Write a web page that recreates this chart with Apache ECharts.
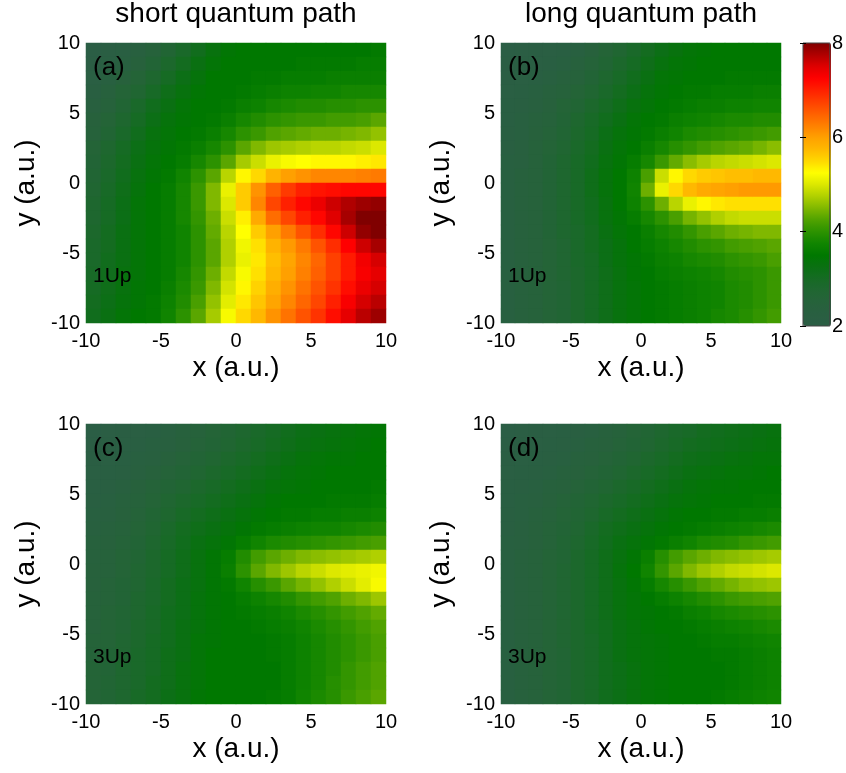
<!DOCTYPE html>
<html lang="en">
  <head>
    <meta charset="utf-8">
    <title>short / long quantum path</title>
    <script src="https://cdn.jsdelivr.net/npm/echarts@6/dist/echarts.min.js"></script>
  </head>
  <body style="margin:0;background:#fff">
    <div id="main" style="width:846px;height:773px;"></div>
    <script type="text/javascript">
    // cell centres (a.u.), one cell per 1 a.u.
    var xs = ['-9.5','-8.5','-7.5','-6.5','-5.5','-4.5','-3.5','-2.5','-1.5','-0.5',
              '0.5','1.5','2.5','3.5','4.5','5.5','6.5','7.5','8.5','9.5'];
    var ys = xs.slice(); // bottom to top
    var axisTicks = [-10, -5, 0, 5, 10];
    var barTicks = [2, 4, 6, 8];

    // each inner array is one x column, values from y=+9.5 (top) down to y=-9.5
    var shortUp1 = [
      [2.0,2.05,2.15,2.25,2.35,2.45,2.5,2.6,2.65,2.7,2.75,2.8,2.8,2.85,2.9,2.9,2.95,3.0,3.05,3.1],
      [2.1,2.2,2.3,2.4,2.5,2.6,2.7,2.8,2.85,2.9,2.95,3.0,3.0,3.05,3.05,3.1,3.1,3.15,3.2,3.25],
      [2.2,2.3,2.45,2.6,2.7,2.8,2.9,3.0,3.05,3.1,3.15,3.2,3.2,3.25,3.25,3.25,3.3,3.3,3.35,3.4],
      [2.35,2.45,2.6,2.75,2.9,3.0,3.1,3.2,3.25,3.3,3.35,3.4,3.4,3.4,3.4,3.4,3.4,3.45,3.45,3.5],
      [2.5,2.65,2.8,2.95,3.1,3.2,3.3,3.35,3.4,3.45,3.5,3.5,3.5,3.5,3.5,3.5,3.5,3.5,3.55,3.55],
      [2.7,2.85,3.0,3.15,3.25,3.35,3.4,3.45,3.5,3.55,3.6,3.6,3.6,3.6,3.6,3.6,3.6,3.65,3.7,3.75],
      [2.9,3.05,3.2,3.3,3.4,3.45,3.5,3.55,3.6,3.75,3.8,3.8,3.8,3.75,3.75,3.75,3.8,3.85,3.9,4.0],
      [3.1,3.25,3.35,3.45,3.5,3.5,3.55,3.65,3.8,4.0,4.1,4.1,4.05,4.0,4.0,4.0,4.05,4.1,4.2,4.3],
      [3.3,3.4,3.5,3.5,3.5,3.55,3.65,3.8,4.0,4.3,4.5,4.5,4.4,4.35,4.3,4.3,4.4,4.5,4.6,4.7],
      [3.45,3.5,3.5,3.5,3.55,3.65,3.8,4.0,4.3,4.8,5.1,5.0,4.9,4.8,4.75,4.75,4.85,4.95,5.05,5.2],
      [3.5,3.5,3.5,3.55,3.65,3.8,4.0,4.3,4.7,5.3,5.6,5.6,5.35,5.25,5.15,5.1,5.2,5.3,5.4,5.5],
      [3.5,3.5,3.55,3.6,3.7,3.9,4.1,4.5,4.9,5.5,6.1,6.2,5.9,5.6,5.45,5.4,5.45,5.55,5.65,5.75],
      [3.5,3.5,3.55,3.65,3.8,4.0,4.25,4.65,5.1,5.8,6.5,6.7,6.4,6.0,5.8,5.7,5.75,5.85,5.95,6.1],
      [3.5,3.5,3.6,3.7,3.85,4.05,4.3,4.7,5.2,6.0,6.8,7.0,6.7,6.3,6.05,5.95,6.0,6.1,6.2,6.35],
      [3.5,3.55,3.6,3.7,3.9,4.1,4.35,4.75,5.25,6.1,7.0,7.2,7.0,6.6,6.3,6.2,6.25,6.35,6.45,6.6],
      [3.5,3.55,3.6,3.75,3.9,4.1,4.4,4.8,5.3,6.2,7.1,7.4,7.2,6.9,6.6,6.45,6.5,6.6,6.7,6.85],
      [3.5,3.55,3.65,3.75,3.95,4.15,4.4,4.8,5.3,6.2,7.15,7.6,7.5,7.2,6.9,6.75,6.75,6.85,7.0,7.15],
      [3.5,3.55,3.65,3.8,3.95,4.15,4.45,4.85,5.3,6.2,7.2,7.75,7.8,7.6,7.25,7.05,7.05,7.15,7.3,7.45],
      [3.5,3.6,3.65,3.8,4.0,4.2,4.5,4.9,5.35,6.25,7.2,7.85,8.0,7.9,7.6,7.35,7.3,7.4,7.55,7.7],
      [3.55,3.6,3.65,3.8,4.0,4.3,4.6,5.0,5.4,6.3,7.2,7.9,8.0,8.0,7.8,7.55,7.45,7.55,7.7,7.85]
    ];
    var longUp1 = [
      [2.0,2.05,2.1,2.15,2.2,2.2,2.25,2.25,2.3,2.3,2.3,2.3,2.3,2.3,2.3,2.3,2.3,2.3,2.3,2.3],
      [2.05,2.1,2.15,2.2,2.25,2.3,2.3,2.35,2.35,2.4,2.4,2.4,2.4,2.4,2.4,2.4,2.4,2.4,2.4,2.4],
      [2.1,2.15,2.2,2.3,2.35,2.4,2.45,2.5,2.5,2.5,2.5,2.5,2.5,2.5,2.5,2.5,2.5,2.5,2.5,2.5],
      [2.15,2.2,2.3,2.4,2.45,2.5,2.55,2.6,2.65,2.65,2.65,2.65,2.65,2.65,2.6,2.6,2.6,2.6,2.6,2.6],
      [2.2,2.3,2.4,2.5,2.6,2.65,2.7,2.75,2.8,2.8,2.8,2.8,2.8,2.8,2.75,2.75,2.75,2.7,2.7,2.7],
      [2.3,2.4,2.5,2.6,2.7,2.8,2.85,2.9,2.95,2.95,2.95,2.95,2.95,2.9,2.9,2.9,2.85,2.85,2.85,2.85],
      [2.45,2.55,2.65,2.75,2.85,2.95,3.0,3.05,3.1,3.15,3.15,3.1,3.1,3.05,3.05,3.0,3.0,3.0,3.0,3.0],
      [2.6,2.7,2.8,2.9,3.0,3.1,3.2,3.25,3.3,3.35,3.35,3.3,3.3,3.25,3.2,3.2,3.15,3.15,3.15,3.15],
      [2.75,2.85,2.95,3.05,3.15,3.25,3.35,3.4,3.45,3.5,3.5,3.5,3.45,3.4,3.35,3.35,3.3,3.3,3.3,3.3],
      [2.9,3.0,3.1,3.2,3.3,3.4,3.45,3.5,3.6,3.7,3.75,3.7,3.6,3.5,3.5,3.45,3.45,3.4,3.4,3.4],
      [3.05,3.15,3.25,3.35,3.4,3.5,3.55,3.65,3.8,4.2,4.4,4.0,3.8,3.65,3.6,3.55,3.5,3.5,3.5,3.5],
      [3.2,3.3,3.4,3.45,3.5,3.55,3.65,3.8,4.1,4.9,5.1,4.4,4.0,3.8,3.7,3.65,3.6,3.55,3.55,3.55],
      [3.3,3.4,3.45,3.5,3.55,3.65,3.75,3.95,4.35,5.3,5.5,4.8,4.2,3.9,3.8,3.7,3.65,3.6,3.6,3.6],
      [3.4,3.45,3.5,3.55,3.6,3.7,3.85,4.05,4.55,5.5,5.75,5.1,4.45,4.05,3.9,3.8,3.7,3.65,3.65,3.65],
      [3.45,3.5,3.5,3.55,3.65,3.75,3.9,4.15,4.7,5.6,5.9,5.3,4.6,4.2,4.0,3.85,3.75,3.7,3.7,3.7],
      [3.5,3.5,3.5,3.6,3.65,3.8,3.95,4.25,4.8,5.65,5.95,5.4,4.75,4.3,4.05,3.9,3.8,3.75,3.75,3.8],
      [3.5,3.5,3.55,3.6,3.7,3.85,4.0,4.3,4.85,5.7,6.0,5.45,4.85,4.4,4.15,4.0,3.9,3.85,3.85,3.85],
      [3.5,3.5,3.55,3.6,3.7,3.85,4.05,4.35,4.9,5.7,6.05,5.45,4.9,4.45,4.2,4.05,3.95,3.9,3.9,3.95],
      [3.5,3.5,3.55,3.65,3.75,3.9,4.1,4.45,4.95,5.75,6.05,5.45,4.9,4.5,4.25,4.1,4.0,4.0,4.0,4.05],
      [3.5,3.5,3.55,3.65,3.75,3.9,4.15,4.55,5.0,5.75,6.05,5.45,4.9,4.5,4.3,4.2,4.1,4.1,4.1,4.15]
    ];
    var shortUp3 = [
      [2.0,2.05,2.1,2.15,2.2,2.25,2.3,2.35,2.4,2.4,2.45,2.45,2.5,2.5,2.5,2.55,2.55,2.6,2.6,2.6],
      [2.05,2.1,2.15,2.2,2.25,2.3,2.35,2.4,2.45,2.5,2.5,2.55,2.55,2.6,2.6,2.6,2.65,2.65,2.7,2.7],
      [2.1,2.15,2.2,2.25,2.35,2.4,2.45,2.5,2.55,2.6,2.6,2.65,2.65,2.7,2.7,2.75,2.75,2.8,2.8,2.8],
      [2.15,2.2,2.3,2.35,2.45,2.5,2.55,2.6,2.65,2.7,2.75,2.75,2.8,2.8,2.85,2.85,2.9,2.9,2.9,2.95],
      [2.2,2.3,2.35,2.45,2.55,2.6,2.7,2.75,2.8,2.85,2.85,2.9,2.9,2.95,2.95,3.0,3.0,3.0,3.05,3.05],
      [2.3,2.35,2.45,2.55,2.65,2.75,2.8,2.9,2.95,3.0,3.0,3.05,3.05,3.1,3.1,3.1,3.15,3.15,3.15,3.2],
      [2.4,2.45,2.55,2.65,2.75,2.85,2.95,3.05,3.1,3.15,3.15,3.2,3.2,3.2,3.25,3.25,3.25,3.3,3.3,3.3],
      [2.5,2.55,2.65,2.75,2.85,2.95,3.05,3.15,3.25,3.3,3.3,3.3,3.35,3.35,3.35,3.4,3.4,3.4,3.4,3.45],
      [2.6,2.65,2.75,2.85,2.95,3.05,3.15,3.25,3.35,3.45,3.45,3.45,3.45,3.45,3.45,3.45,3.5,3.5,3.5,3.5],
      [2.7,2.75,2.85,2.95,3.05,3.15,3.25,3.35,3.45,3.6,3.65,3.55,3.5,3.5,3.5,3.5,3.5,3.5,3.5,3.5],
      [2.8,2.85,2.95,3.05,3.15,3.25,3.35,3.45,3.6,3.9,4.0,3.75,3.6,3.55,3.5,3.5,3.5,3.5,3.5,3.5],
      [2.9,2.95,3.05,3.15,3.25,3.35,3.45,3.55,3.75,4.15,4.3,3.95,3.7,3.6,3.55,3.5,3.5,3.5,3.5,3.5],
      [3.0,3.05,3.15,3.25,3.35,3.45,3.5,3.6,3.85,4.3,4.5,4.1,3.8,3.65,3.6,3.55,3.55,3.5,3.5,3.55],
      [3.1,3.15,3.25,3.35,3.4,3.5,3.55,3.65,3.9,4.4,4.65,4.3,3.9,3.75,3.65,3.6,3.6,3.6,3.6,3.6],
      [3.2,3.25,3.35,3.4,3.45,3.5,3.55,3.7,3.95,4.5,4.8,4.45,4.05,3.85,3.75,3.7,3.7,3.7,3.7,3.75],
      [3.25,3.3,3.4,3.45,3.5,3.5,3.6,3.75,4.0,4.55,4.9,4.6,4.15,3.95,3.85,3.8,3.8,3.8,3.8,3.85],
      [3.3,3.35,3.45,3.5,3.5,3.55,3.6,3.75,4.05,4.6,5.0,4.75,4.25,4.05,3.95,3.9,3.9,3.9,3.95,3.95],
      [3.35,3.4,3.45,3.5,3.5,3.55,3.65,3.8,4.1,4.65,5.05,4.9,4.4,4.15,4.05,4.0,4.0,4.05,4.05,4.1],
      [3.4,3.45,3.5,3.5,3.5,3.55,3.65,3.85,4.15,4.7,5.1,5.05,4.5,4.25,4.15,4.1,4.1,4.15,4.15,4.2],
      [3.45,3.5,3.5,3.5,3.55,3.6,3.7,3.9,4.2,4.75,5.15,5.2,4.65,4.35,4.25,4.2,4.2,4.25,4.25,4.3]
    ];
    var longUp3 = [
      [2.0,2.05,2.1,2.15,2.2,2.2,2.25,2.25,2.3,2.3,2.3,2.3,2.3,2.3,2.3,2.3,2.3,2.3,2.3,2.3],
      [2.05,2.1,2.15,2.2,2.25,2.3,2.3,2.35,2.35,2.4,2.4,2.4,2.4,2.4,2.4,2.4,2.4,2.4,2.4,2.4],
      [2.1,2.15,2.2,2.25,2.3,2.35,2.4,2.45,2.45,2.5,2.5,2.5,2.5,2.5,2.5,2.5,2.5,2.5,2.5,2.5],
      [2.15,2.2,2.25,2.3,2.4,2.45,2.5,2.55,2.55,2.6,2.6,2.6,2.6,2.6,2.6,2.6,2.6,2.6,2.6,2.6],
      [2.2,2.25,2.3,2.4,2.45,2.55,2.6,2.65,2.7,2.7,2.75,2.75,2.75,2.75,2.75,2.75,2.7,2.7,2.7,2.7],
      [2.25,2.3,2.4,2.45,2.55,2.65,2.7,2.75,2.8,2.85,2.85,2.85,2.85,2.85,2.85,2.85,2.85,2.85,2.85,2.85],
      [2.3,2.4,2.45,2.55,2.65,2.75,2.8,2.9,2.95,3.0,3.0,3.0,3.0,3.0,3.0,2.95,2.95,2.95,2.95,2.95],
      [2.4,2.45,2.55,2.65,2.75,2.85,2.95,3.05,3.1,3.15,3.15,3.15,3.15,3.15,3.1,3.1,3.1,3.1,3.1,3.1],
      [2.5,2.55,2.65,2.75,2.85,2.95,3.05,3.15,3.25,3.3,3.35,3.3,3.3,3.3,3.25,3.25,3.25,3.2,3.2,3.2],
      [2.6,2.65,2.75,2.85,2.95,3.05,3.15,3.25,3.35,3.45,3.5,3.45,3.4,3.4,3.35,3.35,3.35,3.3,3.3,3.3],
      [2.7,2.75,2.85,2.95,3.05,3.15,3.25,3.35,3.45,3.65,3.75,3.6,3.5,3.45,3.45,3.4,3.4,3.4,3.4,3.4],
      [2.8,2.85,2.95,3.05,3.15,3.25,3.35,3.45,3.55,3.95,4.05,3.8,3.6,3.5,3.5,3.45,3.45,3.45,3.45,3.45],
      [2.9,2.95,3.05,3.15,3.25,3.35,3.45,3.5,3.65,4.15,4.3,3.95,3.7,3.55,3.5,3.5,3.5,3.5,3.5,3.5],
      [2.95,3.05,3.15,3.25,3.35,3.4,3.5,3.55,3.75,4.3,4.5,4.1,3.8,3.65,3.55,3.5,3.5,3.5,3.5,3.5],
      [3.05,3.1,3.2,3.3,3.4,3.45,3.5,3.6,3.85,4.4,4.65,4.25,3.9,3.7,3.6,3.55,3.5,3.5,3.5,3.5],
      [3.1,3.15,3.25,3.35,3.45,3.5,3.55,3.65,3.9,4.5,4.75,4.35,4.0,3.8,3.65,3.6,3.55,3.5,3.5,3.55],
      [3.15,3.2,3.3,3.4,3.45,3.5,3.55,3.7,3.95,4.55,4.85,4.45,4.1,3.85,3.7,3.6,3.55,3.55,3.55,3.6],
      [3.2,3.25,3.35,3.4,3.5,3.5,3.6,3.75,4.05,4.6,4.9,4.55,4.15,3.9,3.75,3.65,3.6,3.6,3.6,3.65],
      [3.25,3.3,3.4,3.45,3.5,3.55,3.6,3.8,4.1,4.65,4.95,4.6,4.2,3.95,3.8,3.7,3.65,3.65,3.65,3.7],
      [3.3,3.35,3.4,3.5,3.5,3.55,3.65,3.85,4.15,4.7,5.0,4.65,4.25,4.0,3.85,3.75,3.7,3.7,3.7,3.75]
    ];

    var panels = [
      {cols: shortUp1, grid: {left: 86, top: 43, width: 300, height: 280}, tag: '(a)', up: '1Up'},
      {cols: longUp1,  grid: {left: 501, top: 43, width: 280, height: 280}, tag: '(b)', up: '1Up'},
      {cols: shortUp3, grid: {left: 86, top: 424, width: 300, height: 280}, tag: '(c)', up: '3Up'},
      {cols: longUp3,  grid: {left: 501, top: 424, width: 280, height: 280}, tag: '(d)', up: '3Up'}
    ];

    var FONT = 'Arial, "Liberation Sans", sans-serif';

    function cells(cols) {
        var out = [];
        cols.forEach(function (col, i) {
            col.forEach(function (v, j) {
                out.push([i, ys.length - 1 - j, v]);
            });
        });
        return out;
    }

    var grids = [], xAxes = [], yAxes = [], series = [], texts = [];
    panels.forEach(function (p, k) {
        grids.push(p.grid);
        // hidden category axes carry the heatmap cells
        xAxes.push({type: 'category', gridIndex: k, data: xs, show: false});
        yAxes.push({type: 'category', gridIndex: k, data: ys, show: false});
        // visible value axes for the -10..10 ticks
        xAxes.push({
            type: 'value', gridIndex: k, position: 'bottom', min: -10, max: 10, interval: 5,
            name: 'x (a.u.)', nameLocation: 'middle', nameGap: 31,
            nameTextStyle: {fontSize: 28, color: '#000', fontFamily: FONT},
            axisLine: {show: false}, axisTick: {show: false}, splitLine: {show: false},
            axisLabel: {fontSize: 20, color: '#000', margin: 8, fontFamily: FONT}
        });
        yAxes.push({
            type: 'value', gridIndex: k, position: 'left', min: -10, max: 10, interval: 5,
            name: 'y (a.u.)', nameLocation: 'middle', nameGap: 46,
            nameTextStyle: {fontSize: 28, color: '#000', fontFamily: FONT},
            axisLine: {show: false}, axisTick: {show: false}, splitLine: {show: false},
            axisLabel: {fontSize: 20, color: '#000', margin: 6, fontFamily: FONT}
        });
        series.push({
            type: 'heatmap',
            xAxisIndex: 2 * k,
            yAxisIndex: 2 * k,
            data: cells(p.cols),
            emphasis: {disabled: true}
        });
        var g = p.grid;
        texts.push({type: 'text', z: 100, x: g.left + 7, y: g.top + 25,
            style: {text: p.tag, fontSize: 26, fontFamily: FONT, fill: '#000', align: 'left', verticalAlign: 'middle'}});
        texts.push({type: 'text', z: 100, x: g.left + 7, y: g.top + 233,
            style: {text: p.up, fontSize: 21, fontFamily: FONT, fill: '#000', align: 'left', verticalAlign: 'middle'}});
    });

    // colour bar frame and its tick labels
    grids.push({left: 803, top: 43, width: 28, height: 283, show: true, z: 6,
                borderColor: '#444', borderWidth: 1, backgroundColor: 'transparent'});
    xAxes.push({type: 'value', gridIndex: 4, show: false, min: 0, max: 1});
    yAxes.push({
        type: 'value', gridIndex: 4, position: 'right', min: 2, max: 8, interval: 2, z: 7,
        axisLine: {show: false}, splitLine: {show: false},
        axisTick: {show: true, inside: true, length: 3, lineStyle: {color: '#000'}},
        axisLabel: {fontSize: 20, color: '#000', margin: 2, fontFamily: FONT,
                    formatter: function (v) { return barTicks.indexOf(v) >= 0 ? String(v) : ''; }}
    });
    yAxes.push({
        type: 'value', gridIndex: 4, position: 'left', min: 2, max: 8, interval: 2, z: 7,
        axisLine: {show: false}, splitLine: {show: false}, axisLabel: {show: false},
        axisTick: {show: true, inside: true, length: 3, lineStyle: {color: '#000'}}
    });

    texts.push({type: 'text', z: 100, x: 236, y: 14,
        style: {text: 'short quantum path', fontSize: 28, fontFamily: FONT, fill: '#000', align: 'center', verticalAlign: 'middle'}});
    texts.push({type: 'text', z: 100, x: 641, y: 14,
        style: {text: 'long quantum path', fontSize: 28, fontFamily: FONT, fill: '#000', align: 'center', verticalAlign: 'middle'}});

    var chart = echarts.init(document.getElementById('main'));
    chart.setOption({
        animation: false,
        backgroundColor: '#fff',
        textStyle: {fontFamily: FONT},
        grid: grids,
        xAxis: xAxes,
        yAxis: yAxes,
        visualMap: {
            type: 'continuous',
            min: 2, max: 8,
            seriesIndex: [0, 1, 2, 3],
            left: 803, top: 43,
            itemWidth: 28, itemHeight: 283,
            padding: 0,
            calculable: false,
            hoverLink: false,
            z: 2,
            inRange: {
                color: ['#2b5e45','#295f41','#26623b','#206632','#166b24','#0a7012','#007800','#108400',
                        '#2c9200','#50a200','#80b800','#b0d000','#dce800','#ffff00','#ffd800','#ffb800',
                        '#ffa000','#ff8000','#ff6000','#ff4000','#ff2000','#ff0000','#e00000','#b00000','#800000']
            }
        },
        graphic: texts,
        series: series
    });
    </script>
  </body>
</html>
